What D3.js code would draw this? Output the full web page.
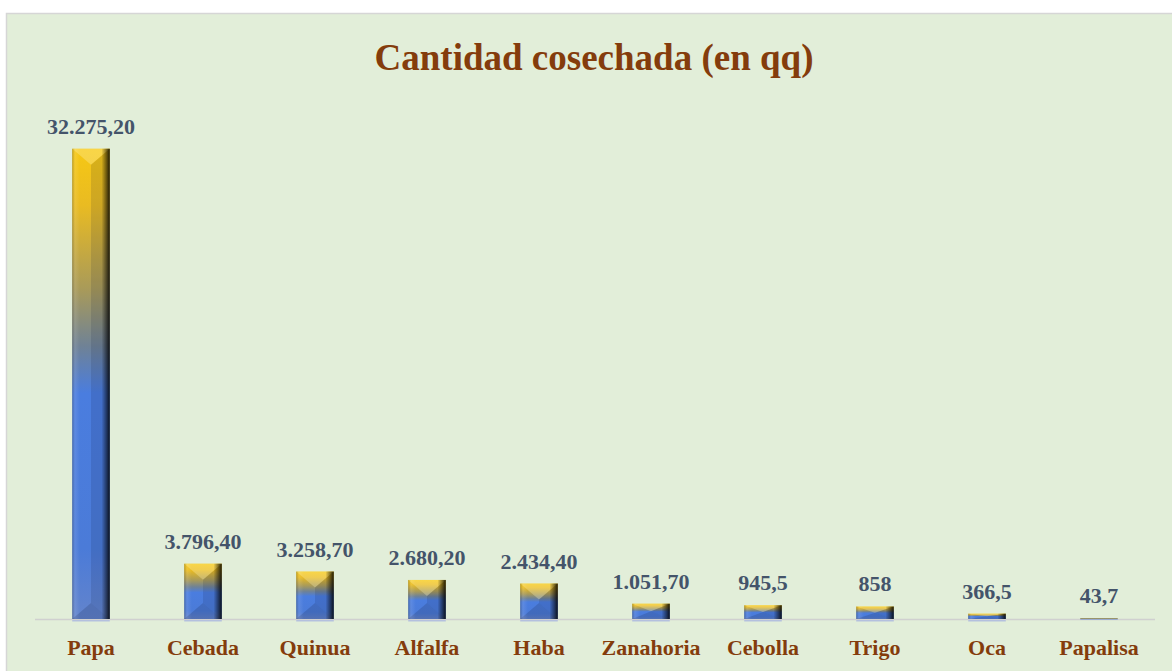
<!DOCTYPE html>
<html><head><meta charset="utf-8">
<script src="https://cdn.jsdelivr.net/npm/d3@7"></script>
<style>html,body{margin:0;padding:0;background:#fff;}svg{display:block;}</style>
</head><body>
<svg id="chart" width="1172" height="671"></svg>
<script>
const categories = ["Papa","Cebada","Quinua","Alfalfa","Haba","Zanahoria","Cebolla","Trigo","Oca","Papalisa"];
const values = [32275.2, 3796.4, 3258.7, 2680.2, 2434.4, 1051.7, 945.5, 858, 366.5, 43.7];
const valueLabels = ["32.275,20","3.796,40","3.258,70","2.680,20","2.434,40","1.051,70","945,5","858","366,5","43,7"];
const title = "Cantidad cosechada (en qq)";

const svg = d3.select("#chart");
const W = 1172, H = 671;
const serif = "'Liberation Serif','DejaVu Serif',serif";

svg.append("rect").attr("x",6.5).attr("y",13.5).attr("width",W).attr("height",H)
  .attr("fill","#e2eed9").attr("stroke","#d6d6d6").attr("stroke-width",1.5);

const x = d3.scaleBand().domain(categories).range([35,1155]).paddingInner(0.665).paddingOuter(0.3325);
const y = d3.scaleLinear().domain([0,35000]).range([619,109]);

const defs = svg.append("defs");
const g1 = defs.append("linearGradient").attr("id","vgrad").attr("x1",0).attr("y1",0).attr("x2",0).attr("y2",1);
[[0,"#f6c814"],[0.12,"#e9bb22"],[0.3,"#a89a5a"],[0.42,"#6f8296"],[0.52,"#4a7ddf"],[0.85,"#4b7bd8"],[1,"#6384cc"]]
  .forEach(([o,c])=>g1.append("stop").attr("offset",o).attr("stop-color",c));
const g2 = defs.append("linearGradient").attr("id","hgrad").attr("x1",0).attr("y1",0).attr("x2",1).attr("y2",0);
[[0,"#000",0.25],[0.08,"#fff",0.1],[0.2,"#fff",0],[0.78,"#000",0],[0.9,"#000",0.45],[1,"#000",0.85]]
  .forEach(([o,c,a])=>g2.append("stop").attr("offset",o).attr("stop-color",c).attr("stop-opacity",a));

svg.append("line").attr("x1",35).attr("x2",1155).attr("y1",619.5).attr("y2",619.5)
  .attr("stroke","#d0d0d0").attr("stroke-width",1.5);

const bars = svg.append("g").selectAll("g").data(categories).join("g");
bars.each(function(c,i){
  const g = d3.select(this);
  const bx = x(c), bw = x.bandwidth();
  const top = y(values[i]), h = y(0)-top;
  const bot = top + h;
  if (h < 1) {
    g.append("rect").attr("x",bx).attr("y",y(0)-1).attr("width",bw).attr("height",1.5).attr("fill","url(#vgrad)");
    return;
  }
  g.append("rect").attr("x",bx).attr("y",top).attr("width",bw).attr("height",h).attr("fill","url(#vgrad)");
  const b = Math.min(h/2, 16);
  const cx = bx + bw/2;
  // facets: top, right, bottom
  g.append("polygon").attr("points",[[bx,top],[bx+bw,top],[cx,top+b]].join(" "))
    .attr("fill","#fff5c0").attr("fill-opacity",0.3);
  g.append("polygon").attr("points",[[bx+bw,top],[bx+bw,bot],[cx,bot-b],[cx,top+b]].join(" "))
    .attr("fill","#0a1430").attr("fill-opacity",0.12);
  g.append("polygon").attr("points",[[bx,bot],[bx+bw,bot],[cx,bot-b]].join(" "))
    .attr("fill","#1a2a50").attr("fill-opacity",0.2);
  g.append("rect").attr("x",bx).attr("y",top).attr("width",bw).attr("height",h).attr("fill","url(#hgrad)");
  g.append("rect").attr("x",bx).attr("y",y(0)+1).attr("width",bw).attr("height",1.5).attr("fill","#aab6e0").attr("opacity",0.8);
});

svg.append("g").selectAll("text").data(categories).join("text")
  .attr("x",c=>x(c)+x.bandwidth()/2)
  .attr("y",(c,i)=>y(values[i])-15)
  .attr("text-anchor","middle")
  .attr("font-family",serif).attr("font-weight","bold").attr("font-size",22)
  .attr("fill","#44546a")
  .text((c,i)=>valueLabels[i]);

svg.append("g").selectAll("text").data(categories).join("text")
  .attr("x",c=>x(c)+x.bandwidth()/2)
  .attr("y",655)
  .attr("text-anchor","middle")
  .attr("font-family",serif).attr("font-weight","bold").attr("font-size",22)
  .attr("fill","#843c0c")
  .text(c=>c);

svg.append("text").attr("x",594).attr("y",70).attr("text-anchor","middle")
  .attr("font-family",serif).attr("font-weight","bold").attr("font-size",37)
  .attr("fill","#843c0c").text(title);
</script>
</body></html>
